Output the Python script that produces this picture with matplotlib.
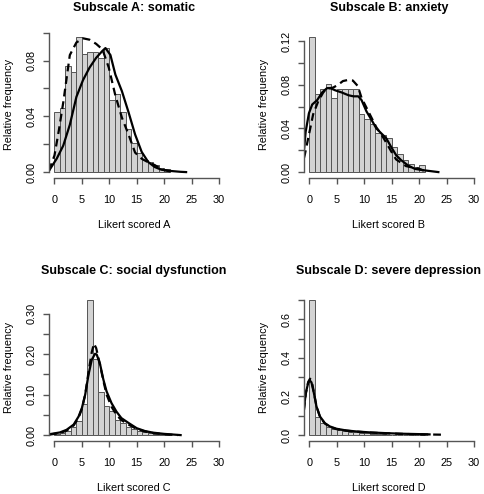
import numpy as np
import matplotlib.pyplot as plt

plt.rcParams['font.family'] = ['Liberation Sans', 'DejaVu Sans']

# histogram bins: score 0..20, width 1
bin_left = list(range(21))

# relative frequencies
freq_a = [0.043, 0.046, 0.076, 0.072, 0.097, 0.085, 0.086, 0.086, 0.082, 0.089,
          0.052, 0.056, 0.043, 0.031, 0.021, 0.014, 0.009, 0.007, 0.005, 0.003, 0.002]
freq_b = [0.124, 0.072, 0.0765, 0.0805, 0.068, 0.0765, 0.076, 0.076, 0.076, 0.0535,
          0.049, 0.044, 0.036, 0.034, 0.031, 0.023, 0.017, 0.011, 0.007, 0.0045, 0.0065]
freq_c = [0.003, 0.005, 0.009, 0.021, 0.035, 0.077, 0.334, 0.187, 0.107, 0.071,
          0.060, 0.038, 0.030, 0.021, 0.015, 0.010, 0.007, 0.005, 0.003, 0.002, 0.001]
freq_d = [0.700, 0.092, 0.062, 0.041, 0.031, 0.024, 0.021, 0.017, 0.014, 0.010,
          0.009, 0.007, 0.005, 0.004, 0.003, 0.003, 0.002, 0.002, 0.001, 0.001, 0.001]

# solid density curves
solid_a_x = [-1.0, 0.4, 1.6, 2.8, 4.0, 5.2, 6.4, 7.6, 8.75, 9.3, 10.2, 11.1, 12.3, 13.5,
             14.7, 15.9, 17.1, 18.3, 19.5, 21.2, 23.0, 24.0]
solid_a_y = [0.001, 0.0096, 0.019, 0.034, 0.054, 0.066, 0.075, 0.082, 0.087, 0.089, 0.084,
             0.070, 0.058, 0.043, 0.027, 0.0145, 0.0072, 0.0036, 0.0017, 0.0008, 0.0002, 0.0]
dash_a_x = [-1.0, 0.0, 0.8, 1.6, 2.8, 4.0, 5.2, 6.4, 7.6, 8.75, 9.9, 11.1, 12.3, 13.5,
            14.7, 15.9, 17.1, 18.3, 19.5, 20.7, 21.8]
dash_a_y = [0.001, 0.012, 0.03, 0.05, 0.084, 0.093, 0.096, 0.095, 0.092, 0.088, 0.075,
            0.055, 0.039, 0.027, 0.014, 0.0096, 0.007, 0.005, 0.002, 0.0008, 0.0]

solid_b_x = [-1.0, -0.7, -0.1, 0.5, 1.4, 2.3, 3.2, 3.8, 4.7, 5.9, 7.1, 8.0, 8.9, 9.5,
             10.4, 11.3, 12.2, 13.1, 14.0, 14.9, 15.8, 16.7, 18.0, 19.2, 20.4, 21.6, 23.5]
solid_b_y = [0.02, 0.037, 0.054, 0.062, 0.066, 0.073, 0.077, 0.077, 0.075, 0.073, 0.0705,
             0.0695, 0.0695, 0.066, 0.0556, 0.048, 0.040, 0.0355, 0.031, 0.023, 0.0155,
             0.011, 0.006, 0.003, 0.002, 0.0012, 0.0]
dash_b_x = [-1.0, -0.85, -0.24, 0.67, 1.6, 2.5, 3.1, 4.3, 5.2, 6.1, 7.0, 7.9, 8.8, 9.5,
            10.4, 11.3, 12.2, 13.1, 14.0, 14.9, 15.8, 16.7, 17.6, 19.0, 20.0, 21.0]
dash_b_y = [0.013, 0.016, 0.031, 0.053, 0.065, 0.073, 0.0765, 0.0775, 0.080, 0.0835,
            0.0845, 0.084, 0.079, 0.068, 0.059, 0.050, 0.041, 0.0346, 0.027, 0.019,
            0.0116, 0.0086, 0.0055, 0.004, 0.003, 0.001]

solid_c_x = [-1.0, 1.0, 2.2, 3.5, 4.4, 5.0, 5.6, 6.2, 6.8, 7.4, 7.7, 8.3, 8.9, 9.5, 10.4,
             11.3, 12.2, 13.5, 15.0, 16.5, 18.0, 20.0, 23.0]
solid_c_y = [0.002, 0.0066, 0.013, 0.026, 0.046, 0.067, 0.10, 0.149, 0.186, 0.201, 0.199,
             0.176, 0.138, 0.108, 0.079, 0.058, 0.042, 0.030, 0.017, 0.010, 0.006, 0.003, 0.0]
dash_c_x = [-1.0, 1.0, 2.2, 3.5, 4.4, 5.0, 5.6, 6.2, 6.8, 7.2, 7.6, 8.2, 8.9, 9.5, 10.4,
            11.3, 12.2, 13.5, 15.0, 16.5, 18.0, 20.0, 22.5]
dash_c_y = [0.001, 0.005, 0.011, 0.024, 0.043, 0.065, 0.10, 0.155, 0.205, 0.226, 0.215,
            0.180, 0.135, 0.100, 0.070, 0.050, 0.037, 0.026, 0.015, 0.009, 0.005, 0.002, 0.0]

solid_d_x = [-1.0, -0.67, -0.24, 0.06, 0.36, 0.8, 1.27, 1.9, 2.8, 3.7, 4.9, 6.7, 8.5, 11.0,
             14.0, 17.0, 20.0, 21.9]
solid_d_y = [0.14, 0.218, 0.27, 0.283, 0.273, 0.218, 0.149, 0.097, 0.062, 0.045, 0.033,
             0.024, 0.019, 0.014, 0.010, 0.007, 0.005, 0.0035]
dash_d_x = [-1.0, -0.67, -0.24, 0.1, 0.4, 0.8, 1.27, 1.9, 2.8, 3.7, 4.9, 6.7, 8.5, 11.0,
            14.0, 17.0, 20.0, 22.0, 24.5]
dash_d_y = [0.13, 0.215, 0.275, 0.292, 0.28, 0.222, 0.150, 0.095, 0.060, 0.043, 0.031,
            0.023, 0.018, 0.013, 0.009, 0.006, 0.004, 0.003, 0.002]

panels = [
    ('Subscale A: somatic', 'Likert scored A', freq_a, solid_a_x, solid_a_y, dash_a_x, dash_a_y,
     np.arange(0, 0.101, 0.02), [0.0, 0.04, 0.08], '%.2f'),
    ('Subscale B: anxiety', 'Likert scored B', freq_b, solid_b_x, solid_b_y, dash_b_x, dash_b_y,
     np.arange(0, 0.121, 0.02), [0.0, 0.04, 0.08, 0.12], '%.2f'),
    ('Subscale C: social dysfunction', 'Likert scored C', freq_c, solid_c_x, solid_c_y, dash_c_x, dash_c_y,
     np.arange(0, 0.301, 0.05), [0.0, 0.10, 0.20, 0.30], '%.2f'),
    ('Subscale D: severe depression', 'Likert scored D', freq_d, solid_d_x, solid_d_y, dash_d_x, dash_d_y,
     np.arange(0, 0.701, 0.1), [0.0, 0.2, 0.4, 0.6], '%.1f'),
]

W, H = 484, 494
fig = plt.figure(figsize=(W / 100, H / 100), dpi=100)

# plot regions in pixels: left, top
boxes = [(49, 31.5), (304, 31.5), (49, 294.5), (304, 294.5)]
pw, ph = 170, 146
axcol = '#555555'

for (title, xlab, freq, sx, sy, dx, dy, yt, ylab_at, fmt), (l, t) in zip(panels, boxes):
    ax = fig.add_axes([l / W, (H - t - ph) / H, pw / W, ph / H])
    ax.bar(bin_left, freq, width=1, align='edge', color='#d3d3d3',
           edgecolor='#555555', linewidth=0.7)
    ax.plot(sx, sy, color='black', lw=1.6, solid_joinstyle='round')
    ax.plot(dx, dy, color='black', lw=1.6, ls=(0, (3.5, 2.2)))
    ymax = max(freq)
    ax.set_xlim(-1, 30)
    ax.set_ylim(-0.04 * ymax, 1.04 * ymax)
    ax.set_xticks(range(0, 31, 5))
    ax.set_yticks(yt)
    ax.set_yticklabels([fmt % v if any(abs(v - w) < 1e-9 for w in ylab_at) else '' for v in yt],
                       rotation=90, va='center')
    for s in ['top', 'right']:
        ax.spines[s].set_visible(False)
    ax.spines['left'].set_bounds(0, yt[-1])
    ax.spines['bottom'].set_bounds(0, 30)
    for s in ['left', 'bottom']:
        ax.spines[s].set_color(axcol)
        ax.spines[s].set_linewidth(1.0)
    ax.tick_params(axis='x', length=4.1, width=1.0, color=axcol, pad=8.5, labelsize=7.8)
    ax.tick_params(axis='y', length=4.1, width=1.0, color=axcol, pad=4.5, labelsize=7.8)
    ax.text(0.5, 1 + 23.5 / ph, title, transform=ax.transAxes, ha='center', va='center',
            fontsize=9, fontweight='bold')
    ax.text(0.5, -47.3 / ph, xlab, transform=ax.transAxes, ha='center', va='center',
            fontsize=7.8)
    ax.text(-40.3 / pw, 0.5, 'Relative frequency', transform=ax.transAxes, ha='center',
            va='center', rotation=90, fontsize=7.8)

fig.savefig('out.png', dpi=100)
